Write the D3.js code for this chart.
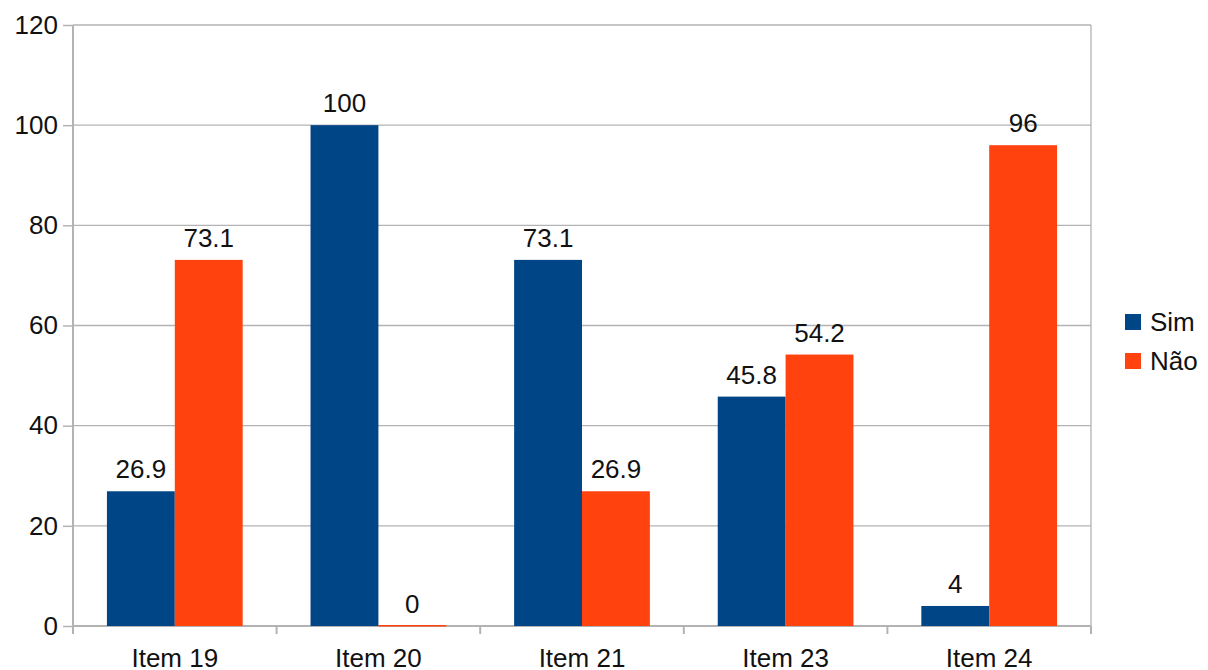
<!DOCTYPE html>
<html><head><meta charset="utf-8">
<script src="https://cdn.jsdelivr.net/npm/d3@7"></script>
<style>html,body{margin:0;padding:0;background:#fff;}svg{display:block;font-family:"Liberation Sans",Arial,sans-serif;}</style>
</head><body>
<svg id="c" width="1208" height="670"></svg>
<script>
const categories = ["Item 19", "Item 20", "Item 21", "Item 23", "Item 24"];
const seriesNames = ["Sim", "Não"];
const simValues = [26.9, 100, 73.1, 45.8, 4];
const naoValues = [73.1, 0, 26.9, 54.2, 96];
const yTicks = [0, 20, 40, 60, 80, 100, 120];
const colors = ["#004586", "#ff420e"];

(function () {
const svg = d3.select("#c");
const pL = 73, pR = 1091, pT = 25, pB = 626;
const x = d3.scaleBand().domain(categories).range([pL, pR]).paddingInner(0).paddingOuter(0);
const inner = d3.scaleBand().domain(seriesNames).range([0, x.bandwidth()]).paddingInner(0).paddingOuter(0.5);
const y = d3.scaleLinear().domain([0, 120]).range([pB, pT]);
const grey = "#b3b3b3";
const fs = 26;

// gridlines
svg.append("g").selectAll("line").data(yTicks).join("line")
  .attr("x1", pL).attr("x2", pR).attr("y1", d => y(d)).attr("y2", d => y(d))
  .attr("stroke", grey).attr("stroke-width", 1.3);
// right border
svg.append("line").attr("x1", pR).attr("x2", pR).attr("y1", pT).attr("y2", pB)
  .attr("stroke", grey).attr("stroke-width", 1.3);

// y axis
const yAxis = svg.append("g").attr("transform", `translate(${pL},0)`)
  .call(d3.axisLeft(y).tickValues(yTicks).tickSize(10).tickPadding(5).tickFormat(d3.format("d")));
yAxis.select(".domain").remove();
yAxis.selectAll(".tick line").attr("stroke", grey).attr("stroke-width", 1.5);
yAxis.selectAll(".tick text").attr("font-size", fs).attr("fill", "#111").attr("font-family", "Liberation Sans, Arial, sans-serif");
svg.append("line").attr("x1", pL).attr("x2", pL).attr("y1", pT).attr("y2", pB + 8)
  .attr("stroke", grey).attr("stroke-width", 2);

// x axis
const bounds = categories.map(c => x(c)).concat([pR]);
svg.append("g").selectAll("line").data(bounds).join("line")
  .attr("x1", d => d).attr("x2", d => d).attr("y1", pB).attr("y2", pB + 8)
  .attr("stroke", grey).attr("stroke-width", 2);
svg.append("line").attr("x1", pL).attr("x2", pR).attr("y1", pB).attr("y2", pB)
  .attr("stroke", grey).attr("stroke-width", 2);
svg.append("g").selectAll("text").data(categories).join("text")
  .attr("x", d => x(d) + x.bandwidth() / 2).attr("y", 667)
  .attr("text-anchor", "middle").attr("font-size", fs).attr("fill", "#111").text(d => d);

// bars
const data = [];
categories.forEach((c, i) => {
  data.push({c, s: "Sim", v: simValues[i], col: colors[0]});
  data.push({c, s: "Não", v: naoValues[i], col: colors[1]});
});
const g = svg.append("g");
g.selectAll("rect").data(data).join("rect")
  .attr("x", d => x(d.c) + inner(d.s))
  .attr("width", inner.bandwidth())
  .attr("y", d => d.v === 0 ? y(0) - 1 : y(d.v))
  .attr("height", d => d.v === 0 ? 1.5 : y(0) - y(d.v))
  .attr("fill", d => d.col);
g.selectAll("text").data(data).join("text")
  .attr("x", d => x(d.c) + inner(d.s) + inner.bandwidth() / 2)
  .attr("y", d => y(d.v) - 13)
  .attr("text-anchor", "middle").attr("font-size", fs).attr("fill", "#111")
  .text(d => String(d.v));

// legend
const lg = svg.append("g");
seriesNames.forEach((s, i) => {
  const cy = 322 + i * 39;
  lg.append("rect").attr("x", 1125).attr("y", cy - 8).attr("width", 16).attr("height", 16).attr("fill", colors[i]);
  lg.append("text").attr("x", 1150).attr("y", cy + 9).attr("font-size", fs).attr("fill", "#111").text(s);
});
})();
</script>
</body></html>
